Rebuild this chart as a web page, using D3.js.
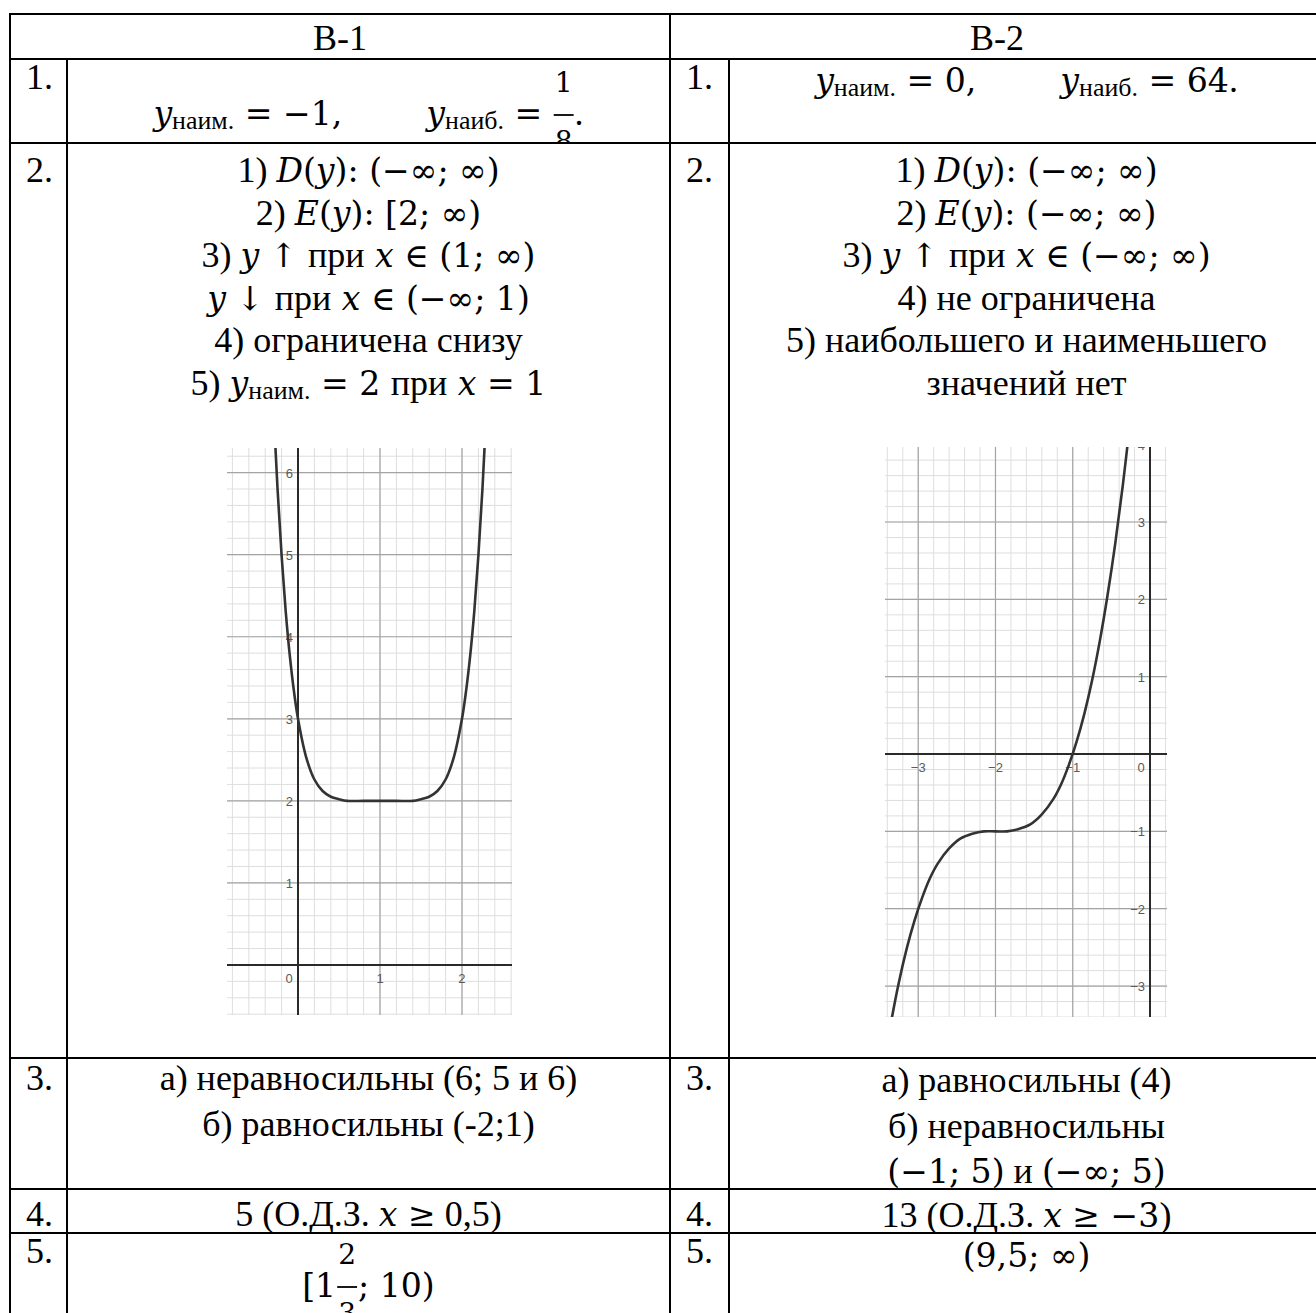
<!DOCTYPE html>
<html>
<head>
<meta charset="utf-8">
<script src="https://cdn.jsdelivr.net/npm/d3@7"></script>
<style>
	body { margin: 0; background: #fff; }
	text { white-space: pre; }
</style>
</head>
<body>
<svg id="canvas"></svg>
<script>
// ---- data ----
const variants = ["В-1", "В-2"];
const taskNums = ["1.", "2.", "3.", "4.", "5."];

// $..$ math mode: latin letters italic, _{..} subscript, {a/b} fraction, ~ wide gap
const answersV1 = [
	["$y_{наим.} = −1,~y_{наиб.} = {1/8}.$"],
	["1) $D(y): (−∞; ∞)$", "2) $E(y): [2; ∞)$", "3) $y ↑ при x ∈ (1; ∞)$",
	 "$y ↓ при x ∈ (−∞; 1)$", "4) ограничена снизу", "5) $y_{наим.} = 2 при x = 1$"],
	["а) неравносильны (6; 5 и 6)", "б) равносильны (-2;1)"],
	["5 (О.Д.З. $x ≥$ 0,5)"],
	["$[1{2/3}; 10)$"]
];
const answersV2 = [
	["$y_{наим.} = 0,~y_{наиб.} = 64.$"],
	["1) $D(y): (−∞; ∞)$", "2) $E(y): (−∞; ∞)$", "3) $y ↑ при x ∈ (−∞; ∞)$",
	 "4) не ограничена", "5) наибольшего и наименьшего", "значений нет"],
	["а) равносильны (4)", "б) неравносильны", "$(−1; 5)$ и $(−∞; 5)$"],
	["13 (О.Д.З. $x ≥ −3$)"],
	["$(9,5; ∞)$"]
];

// graph of variant 1
const g1X = [-0.30, -0.25, -0.20, -0.15, -0.10, -0.05, 0.00, 0.10, 0.20, 0.30, 0.40, 0.50, 0.60, 0.80,
	1.00, 1.20, 1.40, 1.50, 1.60, 1.70, 1.80, 1.90, 2.00, 2.05, 2.10, 2.15, 2.20, 2.25, 2.30];
const g1Y = [6.83, 5.81, 4.99, 4.31, 3.77, 3.34, 3.00, 2.53, 2.26, 2.12, 2.05, 2.02, 2.00, 2.00,
	2.00, 2.00, 2.00, 2.02, 2.05, 2.12, 2.26, 2.53, 3.00, 3.34, 3.77, 4.31, 4.99, 5.81, 6.83];
const g1XTicks = [0, 1, 2];
const g1YTicks = [1, 2, 3, 4, 5, 6];

// graph of variant 2
const g2X = [-3.45, -3.35, -3.25, -3.15, -3.05, -2.95, -2.85, -2.75, -2.60, -2.45, -2.30, -2.15, -2.00,
	-1.85, -1.70, -1.55, -1.40, -1.25, -1.15, -1.05, -0.95, -0.85, -0.75, -0.65, -0.55, -0.45, -0.35, -0.25];
const g2Y = [-4.05, -3.46, -2.95, -2.52, -2.16, -1.86, -1.61, -1.42, -1.22, -1.09, -1.03, -1.00, -1.00,
	-1.00, -0.97, -0.91, -0.78, -0.58, -0.39, -0.14, 0.16, 0.52, 0.95, 1.46, 2.05, 2.72, 3.49, 4.36];
const g2XTicks = [-3, -2, -1, 0];
const g2YTicks = [-3, -2, -1, 1, 2, 3, 4];

// ---- layout ----
const W = 1316, H = 1313;
const FS = 36;
const MFS = FS * 0.92;   // math font size
const FRS = FS * 0.78;   // fraction digits
const SERIF = "'Liberation Serif', 'Times New Roman', serif";
const MATH = "'DejaVu Serif', serif";
const colX = [10, 67, 670, 729, 1324];
const rowY = [14, 59, 143, 1058, 1189, 1233, 1360];
// first baseline offset from the row top: [number, left, right], and line step
const rowBase = [[30, 66, 33], [39, 39, 39], [32, 32, 34], [37, 37, 38], [30, 64, 34]];
const rowStep = [43, 42.6, 45.5, 43, 43];

const svg = d3.select("#canvas").attr("width", W).attr("height", H);
svg.append("rect").attr("width", W).attr("height", H).attr("fill", "#fff");
const defs = svg.append("defs");

const meas = svg.append("text").attr("visibility", "hidden");
function textW(s, font, size, italic) {
	meas.attr("font-family", font).attr("font-size", size)
		.attr("font-style", italic ? "italic" : "normal").text(s);
	return meas.node().getComputedTextLength();
}

function parse(str) {
	const out = [];
	str.split("$").forEach((seg, j) => {
		if (!seg) return;
		if (j % 2 === 0) { out.push({k: "t", t: seg}); return; }
		const re = /_\{([^}]+)\}|\{([^}\/]+)\/([^}]+)\}|(~)|([A-Za-z]+)|([А-Яа-яЁё.]+)|([^A-Za-zА-Яа-яЁё._{~]+)/g;
		let m;
		while ((m = re.exec(seg))) {
			if (m[1]) out.push({k: "sub", t: m[1]});
			else if (m[2]) out.push({k: "frac", n: m[2], d: m[3]});
			else if (m[4]) out.push({k: "gap"});
			else if (m[5]) out.push({k: "i", t: m[5]});
			else if (m[6]) out.push({k: "t", t: m[6]});
			else out.push({k: "m", t: m[7]});
		}
	});
	return out;
}

function pieceW(p) {
	if (p.k === "i") return textW(p.t, MATH, MFS, true);
	if (p.k === "m") return textW(p.t, MATH, MFS);
	if (p.k === "sub") return textW(p.t, SERIF, FS * 0.72);
	if (p.k === "frac") return Math.max(textW(p.n, MATH, FRS), textW(p.d, MATH, FRS)) + 4;
	if (p.k === "gap") return 84;
	return textW(p.t, SERIF, FS);
}

function mathLine(g, str, cx, y) {
	const parts = parse(str);
	parts.forEach(p => p.w = pieceW(p));
	let x = cx - d3.sum(parts, p => p.w) / 2;
	parts.forEach(p => {
		if (p.k === "frac") {
			const mid = x + p.w / 2;
			g.append("text").attr("x", mid).attr("y", y - 33).attr("text-anchor", "middle")
				.attr("font-family", MATH).attr("font-size", FRS).text(p.n);
			g.append("line").attr("x1", x + 1).attr("x2", x + p.w - 1)
				.attr("y1", y - 10).attr("y2", y - 10).attr("stroke", "#000").attr("stroke-width", 1.8);
			g.append("text").attr("x", mid).attr("y", y + 26).attr("text-anchor", "middle")
				.attr("font-family", MATH).attr("font-size", FRS).text(p.d);
		} else if (p.k !== "gap") {
			const isMath = p.k === "i" || p.k === "m";
			g.append("text")
				.attr("x", x)
				.attr("y", p.k === "sub" ? y + 4 : y)
				.attr("font-family", isMath ? MATH : SERIF)
				.attr("font-size", p.k === "sub" ? FS * 0.72 : (isMath ? MFS : FS))
				.attr("font-style", p.k === "i" ? "italic" : "normal")
				.text(p.t);
		}
		x += p.w;
	});
}

function cellClip(id, x0, y0, x1, y1) {
	defs.append("clipPath").attr("id", id).append("rect")
		.attr("x", x0).attr("y", y0).attr("width", x1 - x0).attr("height", y1 - y0);
	return "url(#" + id + ")";
}

const table = svg.append("g").attr("font-family", SERIF).attr("font-size", FS).attr("fill", "#000");

// header
variants.forEach((v, i) => {
	const x0 = colX[i * 2], x1 = colX[i * 2 + 2];
	table.append("text").attr("x", (x0 + x1) / 2).attr("y", rowY[0] + 36)
		.attr("text-anchor", "middle").text(v);
});

// rows
[answersV1, answersV2].forEach((answers, v) => {
	taskNums.forEach((num, r) => {
		const top = rowY[r + 1], bot = rowY[r + 2];
		const nx0 = colX[v * 2], cx0 = colX[v * 2 + 1], cx1 = colX[v * 2 + 2];
		const ng = table.append("g").attr("clip-path", cellClip("n" + v + r, nx0, top, cx0, bot));
		ng.append("text").attr("x", nx0 + 16).attr("y", top + rowBase[r][0]).text(num);
		const cg = table.append("g").attr("clip-path", cellClip("c" + v + r, cx0, top, cx1, bot));
		answers[r].forEach((line, k) => {
			mathLine(cg, line, (cx0 + cx1) / 2, top + rowBase[r][v + 1] + k * rowStep[r]);
		});
	});
});

// ---- graphs ----
function drawGraph(id, box, xDom, yDom, xs, ys, xTicks, yTicks) {
	const x = d3.scaleLinear().domain(xDom).range([box.x0, box.x1]);
	const y = d3.scaleLinear().domain(yDom).range([box.y1, box.y0]);
	const g = svg.append("g").attr("clip-path", cellClip(id, box.x0, box.y0, box.x1, box.y1));

	const minorX = d3.range(Math.ceil(xDom[0] * 5), Math.floor(xDom[1] * 5) + 1).map(i => i / 5);
	const minorY = d3.range(Math.ceil(yDom[0] * 5), Math.floor(yDom[1] * 5) + 1).map(i => i / 5);
	const majorX = d3.range(Math.ceil(xDom[0]), Math.floor(xDom[1]) + 1);
	const majorY = d3.range(Math.ceil(yDom[0]), Math.floor(yDom[1]) + 1);

	g.selectAll(".mx").data(minorX).enter().append("line")
		.attr("x1", d => x(d)).attr("x2", d => x(d)).attr("y1", box.y0).attr("y2", box.y1)
		.attr("stroke", "#dedede").attr("stroke-width", 1);
	g.selectAll(".my").data(minorY).enter().append("line")
		.attr("y1", d => y(d)).attr("y2", d => y(d)).attr("x1", box.x0).attr("x2", box.x1)
		.attr("stroke", "#dedede").attr("stroke-width", 1);
	g.selectAll(".Mx").data(majorX).enter().append("line")
		.attr("x1", d => x(d)).attr("x2", d => x(d)).attr("y1", box.y0).attr("y2", box.y1)
		.attr("stroke", "#a4a4a4").attr("stroke-width", 1.2);
	g.selectAll(".My").data(majorY).enter().append("line")
		.attr("y1", d => y(d)).attr("y2", d => y(d)).attr("x1", box.x0).attr("x2", box.x1)
		.attr("stroke", "#a4a4a4").attr("stroke-width", 1.2);

	// axes
	g.append("line").attr("x1", box.x0).attr("x2", box.x1).attr("y1", y(0)).attr("y2", y(0))
		.attr("stroke", "#2a2a2a").attr("stroke-width", 2);
	g.append("line").attr("x1", x(0)).attr("x2", x(0)).attr("y1", box.y0).attr("y2", box.y1)
		.attr("stroke", "#2a2a2a").attr("stroke-width", 2);

	const lab = g.append("g").attr("font-family", "'Liberation Sans', Arial, sans-serif")
		.attr("font-size", 13).attr("fill", "#5a5a5a");
	lab.selectAll(".xl").data(xTicks).enter().append("text")
		.attr("x", d => d === 0 ? x(0) - 9 : x(d))
		.attr("y", y(0) + 18)
		.attr("text-anchor", "middle")
		.text(d => d3.format("")(d).replace("-", "−"));
	lab.selectAll(".yl").data(yTicks).enter().append("text")
		.attr("x", x(0) - 5)
		.attr("y", d => y(d) + 5)
		.attr("text-anchor", "end")
		.text(d => d3.format("")(d).replace("-", "−"));

	const line = d3.line().x((d, i) => x(xs[i])).y((d, i) => y(ys[i])).curve(d3.curveCatmullRom);
	g.append("path").attr("d", line(xs)).attr("fill", "none")
		.attr("stroke", "#333").attr("stroke-width", 2.6);
}

drawGraph("gr1", {x0: 227, x1: 512, y0: 448, y1: 1015}, [-0.866, 2.61], [-0.61, 6.30],
	g1X, g1Y, g1XTicks, g1YTicks);
drawGraph("gr2", {x0: 885, x1: 1167, y0: 447, y1: 1017}, [-3.43, 0.22], [-3.40, 3.97],
	g2X, g2Y, g2XTicks, g2YTicks);

// ---- borders ----
const bord = svg.append("g").attr("stroke", "#000").attr("stroke-width", 2);
rowY.slice(0, 6).forEach(yy => {
	bord.append("line").attr("x1", colX[0] - 1).attr("x2", colX[4]).attr("y1", yy).attr("y2", yy);
});
[colX[0], colX[2], colX[4]].forEach(xx => {
	bord.append("line").attr("x1", xx).attr("x2", xx).attr("y1", rowY[0] - 1).attr("y2", H + 5);
});
[colX[1], colX[3]].forEach(xx => {
	bord.append("line").attr("x1", xx).attr("x2", xx).attr("y1", rowY[1]).attr("y2", H + 5);
});
</script>
</body>
</html>
